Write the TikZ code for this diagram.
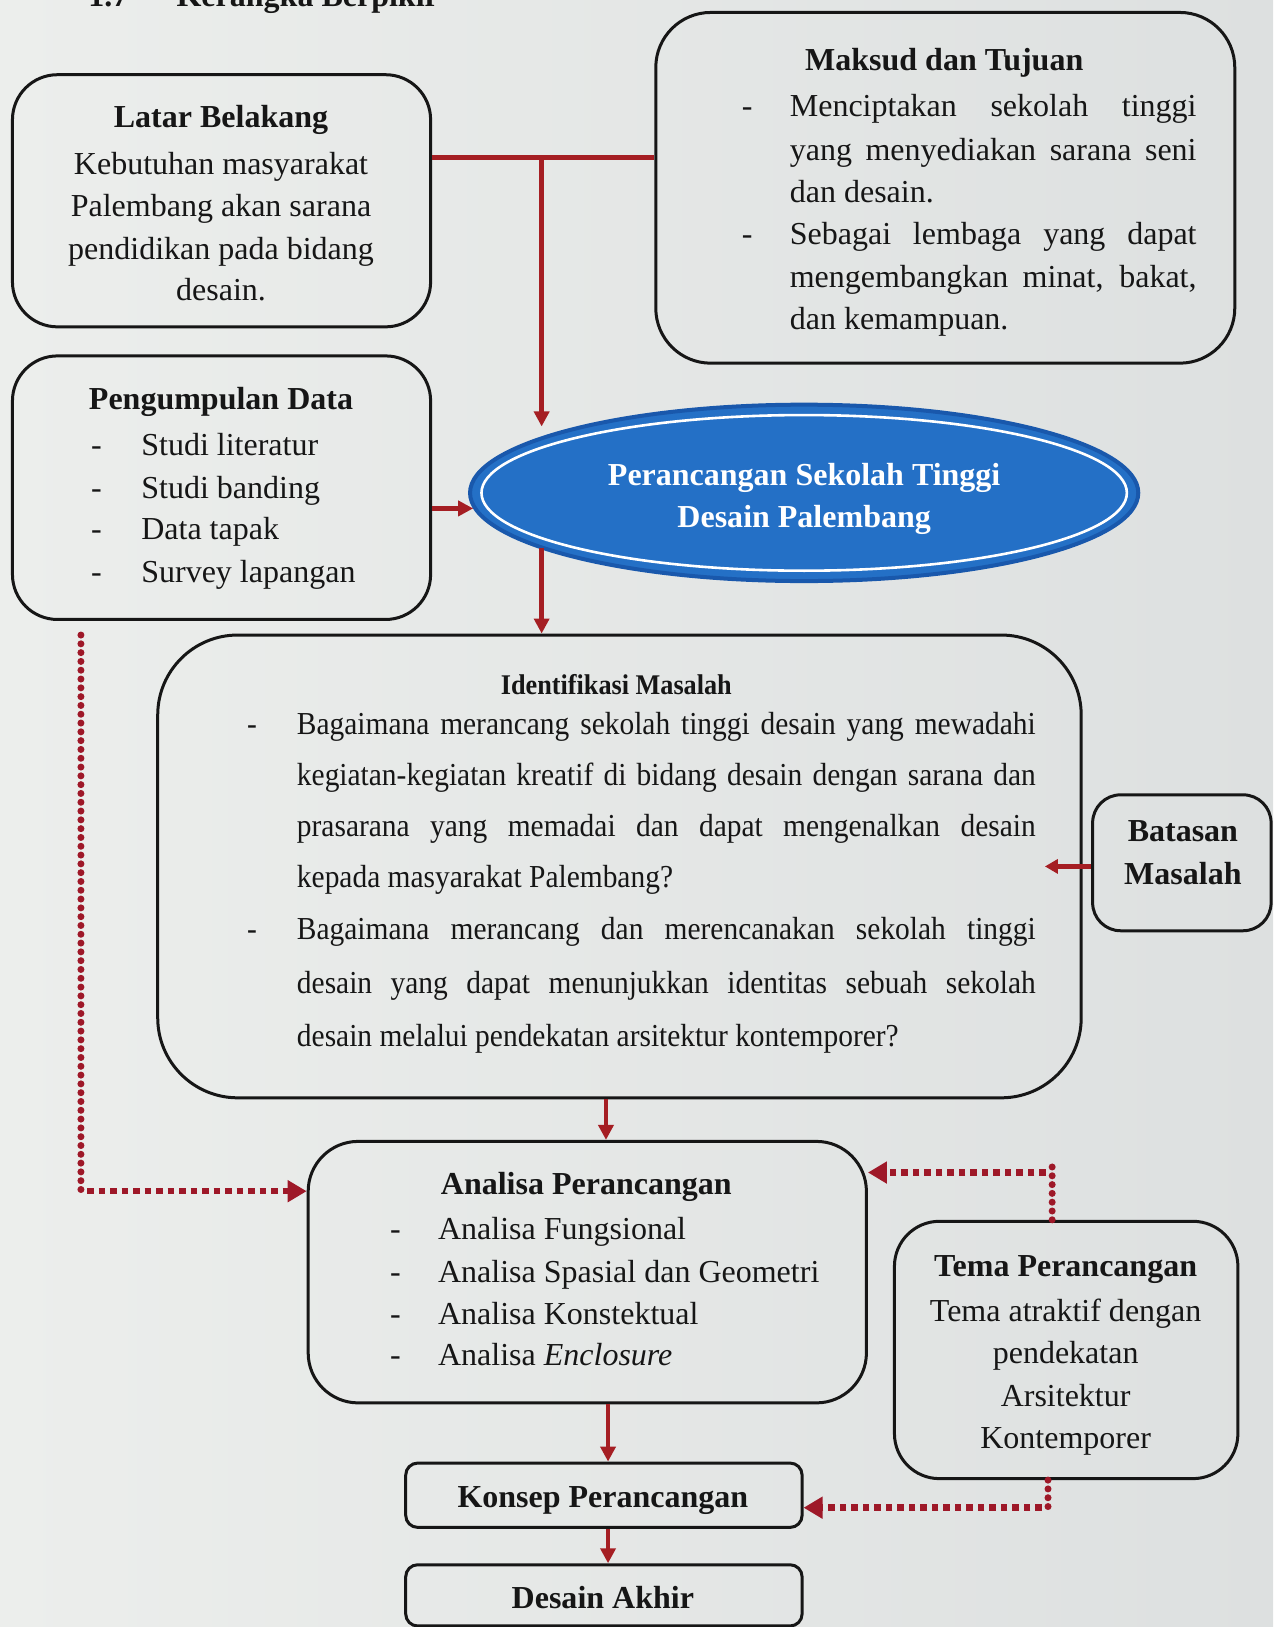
\documentclass[tikz,border=0pt]{standalone}
\usepackage{fontspec}
\setmainfont{Liberation Serif}
\newfontfamily\condf[FakeStretch=0.92]{Liberation Serif}
\usetikzlibrary{arrows.meta,fit,shapes.geometric}
\definecolor{redc}{RGB}{165,30,35}
\definecolor{dotc}{RGB}{158,24,40}
\definecolor{bgl}{RGB}{236,238,236}
\definecolor{bgr}{RGB}{221,224,224}
\definecolor{bluef}{RGB}{36,112,198}
\definecolor{blued}{RGB}{25,88,172}
\definecolor{inkc}{RGB}{22,22,22}
\newcommand\myjust[2]{\makebox[#1][s]{#2}}
\begin{document}
\begin{tikzpicture}[x=1.0375pt,y=-1.0375pt,
  rbox/.style={draw=inkc,line width=3pt,inner sep=0pt,rounded corners=#1},
  txt/.style={inner sep=0pt,anchor=base,font=\fontsize{32}{38}\selectfont,text=inkc},
  txtl/.style={txt,anchor=base west},
  ttl/.style={txt,font=\fontsize{32}{38}\selectfont\bfseries},
  ctxt/.style={txt,font=\fontsize{32}{38}\selectfont\condf},
  ctxtl/.style={ctxt,anchor=base west},
  redline/.style={draw=redc,line width=4.5pt},
  arr/.style={redline,-{Triangle[length=15pt,width=15pt]}},
  arrsm/.style={redline,-{Triangle[length=13pt,width=14pt]}},
  vdot/.style={draw=dotc,line width=7pt,line cap=round,dash pattern=on 0pt off 8.8pt},
  hdot/.style={draw=dotc,line width=6.5pt,line cap=butt,dash pattern=on 6.5pt off 5pt,
     -{Triangle[length=19pt,width=21pt]}}
]
% background
\useasboundingbox (0,0) rectangle (1227,1568);
\shade[left color=bgl,right color=bgr] (0,0) rectangle (1227,1568);

% heading (cut at the top edge, as in the reference)
\node[ttl,anchor=base west] (h1) at (85,6) {1.7};
\node[ttl,anchor=base west] (h2) at (170,6) {Kerangka Berpikir};

% boxes
\node[rbox=45,fit={(12,72) (415,315)}] (latar) {};
\node[rbox=55,fit={(632,12) (1190,350)}] (maksud) {};
\node[rbox=45,fit={(12,343) (415,597)}] (peng) {};
\node[rbox=80,fit={(152,612) (1042,1058)}] (ident) {};
\node[rbox=28,fit={(1053,766) (1225,897)}] (bat) {};
\node[rbox=50,fit={(297,1100) (835,1352)}] (anal) {};
\node[rbox=45,fit={(862,1177) (1193,1425)}] (tema) {};
\node[rbox=12,fit={(391,1410) (773,1472)}] (konsep) {};
\node[rbox=12,fit={(391,1508) (773,1567)}] (akhir) {};

% ellipse
\node[ellipse,fill=bluef,draw=blued,line width=4pt,inner sep=0pt,
      minimum width={644*1.0375pt},minimum height={170*1.0375pt}] (ell) at (775,475) {};
\draw[white,line width=2.6pt] (ell.center) ellipse [x radius=311, y radius=75];

% Latar Belakang
\node[ttl] (lt0) at (213,123) {Latar Belakang};
\node[txt] (lt1) at (213,168) {Kebutuhan masyarakat};
\node[txt] (lt2) at (213,209) {Palembang akan sarana};
\node[txt] (lt3) at (213,250) {pendidikan pada bidang};
\node[txt] (lt4) at (213,290) {desain.};

% Maksud dan Tujuan
\node[ttl] (mt0) at (910,68) {Maksud dan Tujuan};
\node[txt] (md1) at (720,112) {-};
\node[txt] (md2) at (720,236) {-};
\node[txtl] (mt1) at (761,112) {\myjust{406.7pt}{Menciptakan sekolah tinggi}};
\node[txtl] (mt2) at (761,155) {\myjust{406.7pt}{yang menyediakan sarana seni}};
\node[txtl] (mt3) at (761,195) {dan desain.};
\node[txtl] (mt4) at (761,236) {\myjust{406.7pt}{Sebagai lembaga yang dapat}};
\node[txtl] (mt5) at (761,277) {\myjust{406.7pt}{mengembangkan minat, bakat,}};
\node[txtl] (mt6) at (761,318) {dan kemampuan.};

% Pengumpulan Data
\node[ttl] (pt0) at (213,395) {Pengumpulan Data};
\node[txt] (pd1) at (93,439) {-};
\node[txt] (pd2) at (93,480) {-};
\node[txt] (pd3) at (93,520) {-};
\node[txt] (pd4) at (93,561) {-};
\node[txtl] (pt1) at (136,439) {Studi literatur};
\node[txtl] (pt2) at (136,480) {Studi banding};
\node[txtl] (pt3) at (136,520) {Data tapak};
\node[txtl] (pt4) at (136,561) {Survey lapangan};

% ellipse text
\node[ttl,text=white] (et1) at (775,468) {Perancangan Sekolah Tinggi};
\node[ttl,text=white] (et2) at (775,508) {Desain Palembang};

% Identifikasi Masalah
\node[ctxt,font=\fontsize{28.5}{34}\selectfont\condf\bfseries] (it0) at (594,669) {Identifikasi Masalah};
\node[ctxt] (id1) at (243,708) {-};
\node[ctxt] (id2) at (243,905) {-};
\node[ctxtl] (it1) at (286,708) {\myjust{738.7pt}{Bagaimana merancang sekolah tinggi desain yang mewadahi}};
\node[ctxtl] (it2) at (286,757) {\myjust{738.7pt}{kegiatan-kegiatan kreatif di bidang desain dengan sarana dan}};
\node[ctxtl] (it3) at (286,806) {\myjust{738.7pt}{prasarana yang memadai dan dapat mengenalkan desain}};
\node[ctxtl] (it4) at (286,855) {kepada masyarakat Palembang?};
\node[ctxtl] (it5) at (286,905) {\myjust{738.7pt}{Bagaimana merancang dan merencanakan sekolah tinggi}};
\node[ctxtl] (it6) at (286,957) {\myjust{738.7pt}{desain yang dapat menunjukkan identitas sebuah sekolah}};
\node[ctxtl] (it7) at (286,1009) {desain melalui pendekatan arsitektur kontemporer?};

% Batasan Masalah
\node[ttl] (bt1) at (1140,811) {Batasan};
\node[ttl] (bt2) at (1140,852) {Masalah};

% Analisa Perancangan
\node[ttl] (at0) at (565,1151) {Analisa Perancangan};
\node[txt] (ad1) at (381,1195) {-};
\node[txt] (ad2) at (381,1236) {-};
\node[txt] (ad3) at (381,1276) {-};
\node[txt] (ad4) at (381,1316) {-};
\node[txtl] (at1) at (422,1195) {Analisa Fungsional};
\node[txtl] (at2) at (422,1236) {Analisa Spasial dan Geometri};
\node[txtl] (at3) at (422,1276) {Analisa Konstektual};
\node[txtl] (at4) at (422,1316) {Analisa \textit{Enclosure}};

% Tema Perancangan
\node[ttl] (tt0) at (1027,1230) {Tema Perancangan};
\node[txt] (tt1) at (1027,1274) {Tema atraktif dengan};
\node[txt] (tt2) at (1027,1314) {pendekatan};
\node[txt] (tt3) at (1027,1355) {Arsitektur};
\node[txt] (tt4) at (1027,1396) {Kontemporer};

% Konsep / Desain Akhir
\node[ttl] (kt) at (581,1453) {Konsep Perancangan};
\node[ttl] (dt) at (581,1550) {Desain Akhir};

% solid connectors
\coordinate (j1) at (522,152);
\coordinate (a1) at (522,411);
\coordinate (a2) at (456,490);
\coordinate (e1) at (522,528);
\coordinate (a3) at (1007,835);
\coordinate (c4) at (584,1080);
\coordinate (c5) at (586,1380);
\draw[redline] (latar.east |- j1) -- (maksud.west |- j1);
\draw[arr] (j1) -- (a1);
\draw[arr] (peng.east |- a2) -- (a2);
\draw[arr] (e1) -- (ident.north -| e1);
\draw[arrsm] (bat.west |- a3) -- (a3);
\draw[arr] (ident.south -| c4) -- (anal.north -| c4);
\draw[arr] (anal.south -| c5) -- (konsep.north -| c5);
\draw[arr] (konsep.south -| c5) -- (akhir.north -| c5);

% dotted connectors
\coordinate (d1) at (78,612);
\coordinate (d2) at (78,1148);
\coordinate (d2h) at (84,1148);
\draw[vdot] (d1) -- (d2);
\draw[hdot] (d2h) -- (anal.west |- d2h);

\coordinate (d3) at (1014,1120);
\coordinate (d3h) at (1008,1130);
\draw[vdot] (tema.north -| d3) -- (d3);
\draw[hdot] (d3h) -- (anal.east |- d3h);

\coordinate (d4) at (1010,1458);
\coordinate (d4h) at (1004,1453);
\draw[vdot] (tema.south -| d4) -- (d4);
\draw[hdot] (d4h) -- (konsep.east |- d4h);
\end{tikzpicture}
\end{document}
